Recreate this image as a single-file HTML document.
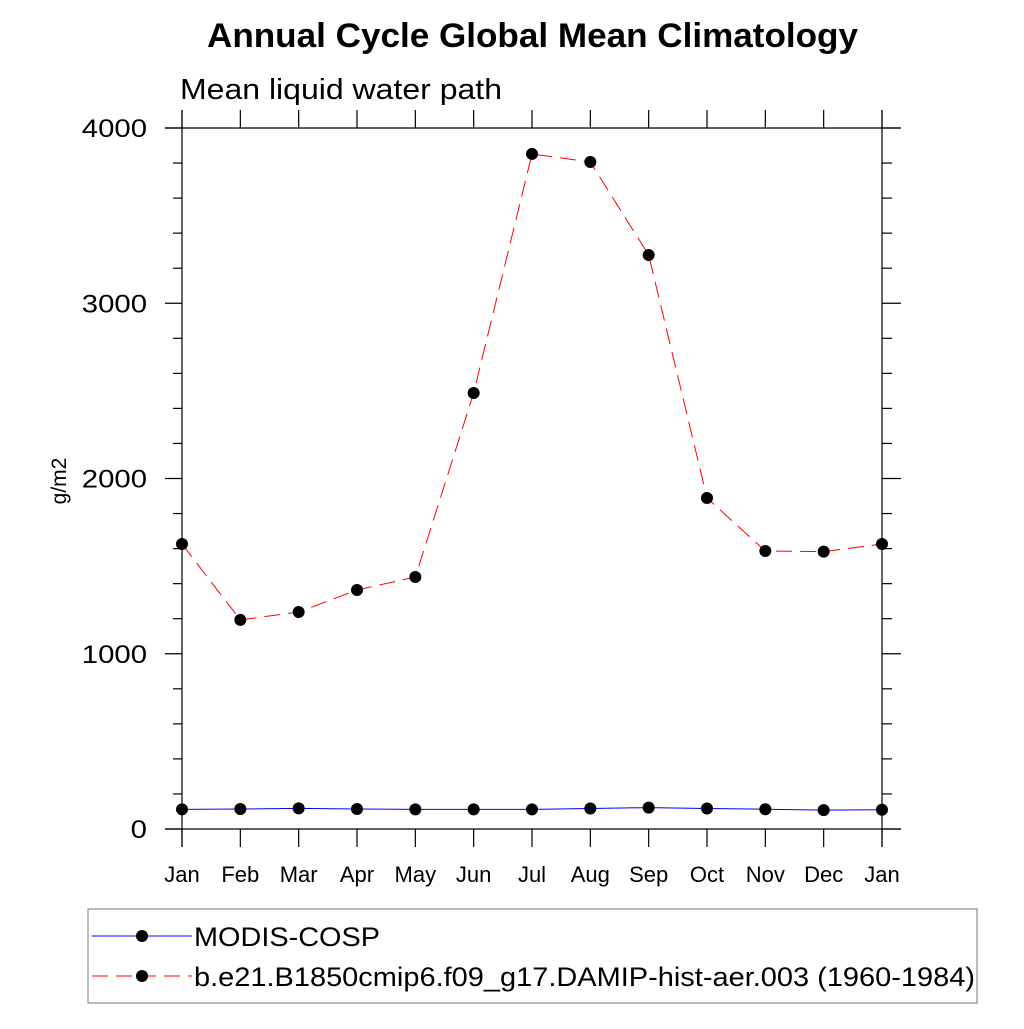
<!DOCTYPE html>
<html><head><meta charset="utf-8"><style>
body{margin:0;background:#fff}
svg text{font-family:"Liberation Sans",sans-serif}
</style></head><body>
<svg width="1024" height="1024" xmlns="http://www.w3.org/2000/svg">
<text x="207" y="47" font-size="34" font-weight="bold" textLength="651" lengthAdjust="spacingAndGlyphs">Annual Cycle Global Mean Climatology</text>
<text x="180" y="99" font-size="29" textLength="322" lengthAdjust="spacingAndGlyphs">Mean liquid water path</text>
<text transform="translate(66,481) rotate(-90)" font-size="21" text-anchor="middle">g/m2</text>
<g id="axes" stroke="#000" stroke-width="1.2"></g>
<g id="series"></g>
<rect x="88" y="909" width="889" height="94" fill="none" stroke="#777" stroke-width="1"/>
<g>
<line x1="92" y1="936" x2="192" y2="936" stroke="#00f" stroke-width="1"/>
<circle cx="142" cy="936" r="6" fill="#000"/>
<text x="194" y="946" font-size="27" textLength="186" lengthAdjust="spacingAndGlyphs">MODIS-COSP</text></g>
<g>
<line x1="92" y1="976" x2="192" y2="976" stroke="#f00" stroke-width="1" stroke-dasharray="16,8"/>
<circle cx="142" cy="976" r="6" fill="#000"/>
<text x="194" y="986" font-size="27" textLength="781" lengthAdjust="spacingAndGlyphs">b.e21.B1850cmip6.f09_g17.DAMIP-hist-aer.003 (1960-1984)</text></g>
</svg>
<script>
const months=["Jan","Feb","Mar","Apr","May","Jun","Jul","Aug","Sep","Oct","Nov","Dec","Jan"];
const yTicks=[0,1000,2000,3000,4000];
const modis=[112,114,118,114,112,112,112,117,122,117,113,108,110];
const model=[1626,1193,1238,1364,1438,2488,3852,3806,3275,1889,1586,1583,1626];
const NS="http://www.w3.org/2000/svg";
const x=i=>182+i*(700/12);
const y=v=>829-v*0.17525;
function mk(p,t,a){const e=document.createElementNS(NS,t);for(const k in a)e.setAttribute(k,a[k]);p.appendChild(e);return e;}
const ax=document.getElementById('axes');
mk(ax,'line',{x1:182,y1:110,x2:182,y2:847});
mk(ax,'line',{x1:882,y1:110,x2:882,y2:847});
mk(ax,'line',{x1:165,y1:128,x2:901,y2:128});
mk(ax,'line',{x1:165,y1:829,x2:901,y2:829});
for(let v=0;v<=4000;v+=200){const major=v%1000===0;
 mk(ax,'line',{x1:major?165:173,y1:y(v),x2:182,y2:y(v)});
 mk(ax,'line',{x1:882,y1:y(v),x2:major?901:892,y2:y(v)});}
const svg=document.querySelector('svg');
yTicks.forEach(v=>{const t=mk(svg,'text',{x:147,y:y(v)+9,'font-size':25,'text-anchor':'end'});


t.textContent=v;
const w=String(v).length*16.3;t.setAttribute('textLength',w);t.setAttribute('lengthAdjust','spacingAndGlyphs');});
months.forEach((m,i)=>{
 mk(ax,'line',{x1:x(i),y1:110,x2:x(i),y2:128});
 mk(ax,'line',{x1:x(i),y1:829,x2:x(i),y2:847});
 const t=mk(svg,'text',{x:x(i),y:882,'font-size':22,'text-anchor':'middle'});
 
 
 t.textContent=m;});
const sg=document.getElementById('series');
function series(vals,color,dash,name){
 const pl=mk(sg,'polyline',{points:vals.map((v,i)=>x(i)+','+y(v)).join(' '),fill:'none',stroke:color,'stroke-width':1,'stroke-dasharray':dash});
 
 
 vals.forEach((v,i)=>{const c=mk(sg,'circle',{cx:x(i),cy:y(v),r:6,fill:'#000'});
 
 });}
series(modis,'#00f','none','modis');
series(model,'#f00','16,8','model');
</script>
</body></html>
